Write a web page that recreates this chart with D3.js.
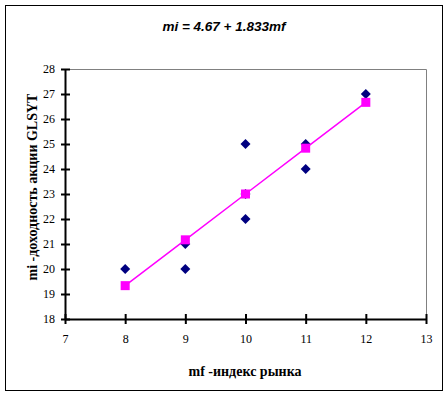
<!DOCTYPE html>
<meta charset="utf-8">
<style>
    body { margin: 0; background: #fff; }
</style>
<body>
    <svg width="448" height="397"></svg>
</body>
<script src="https://cdnjs.cloudflare.com/ajax/libs/d3/7.8.5/d3.min.js"></script>
<script>

    // data: market index mf vs. stock return mi
    var mfValues = [8, 9, 9, 10, 10, 10, 11, 11, 12];
    var miValues = [20, 21, 20, 25, 22, 23, 25, 24, 27];
    var fitX = [8, 9, 10, 11, 12];
    var intercept = 4.67, slope = 1.833;
    var xTicks = [7, 8, 9, 10, 11, 12, 13];
    var yTicks = [18, 19, 20, 21, 22, 23, 24, 25, 26, 27, 28];

    var serif = "'Liberation Serif', 'Times New Roman', serif";

    var svg = d3.select("svg");

    var x = d3.scaleLinear().domain([7, 13]).range([65, 426]);
    var y = d3.scaleLinear().domain([18, 28]).range([319, 69]);

    // outer frame
    svg.append("rect")
        .attr("x", 5.5).attr("y", 5.5)
        .attr("width", 437).attr("height", 385)
        .attr("fill", "white")
        .attr("stroke", "black")
        .attr("stroke-width", 1);

    // plot area border (grey)
    svg.append("path")
        .attr("d", "M" + x(7) + "," + (y(28) + 0.5) + "H" + (x(13) + 0.5) + "V" + y(18))
        .attr("fill", "none")
        .attr("stroke", "#808080")
        .attr("stroke-width", 1);

    // title
    svg.append("text")
        .attr("x", 224).attr("y", 31)
        .attr("text-anchor", "middle")
        .style("font-family", "'Liberation Sans', Arial, sans-serif")
        .style("font-size", "13.5px")
        .style("font-weight", "bold")
        .style("font-style", "italic")
        .text("mi = " + intercept + " + " + slope + "mf");

    // axes with cross ticks
    var xAxis = svg.append("g")
        .attr("transform", "translate(0," + y(18) + ")")
        .call(d3.axisBottom(x).tickValues(xTicks).tickFormat(d3.format("d"))
            .tickSizeInner(5).tickSizeOuter(0).tickPadding(10));
    xAxis.selectAll(".tick line").attr("y1", -5);

    var yAxis = svg.append("g")
        .attr("transform", "translate(" + x(7) + ",0)")
        .call(d3.axisLeft(y).tickValues(yTicks).tickFormat(d3.format("d"))
            .tickSizeInner(4).tickSizeOuter(0).tickPadding(6));
    yAxis.selectAll(".tick line").attr("x1", 5);

    svg.selectAll(".domain").attr("stroke", "black").attr("stroke-width", 2);
    svg.selectAll(".tick line").attr("stroke", "black").attr("stroke-width", 2);
    xAxis.attr("font-family", serif).attr("font-size", 12);
    yAxis.attr("font-family", serif).attr("font-size", 12);
    svg.selectAll(".tick text").attr("fill", "black");

    // axis titles
    svg.append("text")
        .attr("x", 245).attr("y", 376)
        .attr("text-anchor", "middle")
        .style("font-family", serif)
        .style("font-size", "14px")
        .style("font-weight", "bold")
        .text("mf -индекс рынка");

    svg.append("text")
        .attr("transform", "translate(37,187) rotate(-90)")
        .attr("text-anchor", "middle")
        .style("font-family", serif)
        .style("font-size", "14px")
        .style("font-weight", "bold")
        .text("mi -доходность акции GLSYT");

    // observed points (navy diamonds)
    var pts = mfValues.map(function(d, i) { return { mf: d, mi: miValues[i] }; });
    svg.append("g").selectAll("path")
        .data(pts)
        .enter()
        .append("path")
        .attr("d", "M0,-5L5,0L0,5L-5,0Z")
        .attr("transform", function(d) { return "translate(" + x(d.mf) + "," + y(d.mi) + ")"; })
        .attr("fill", "#000080");

    // fitted line and points
    var fit = fitX.map(function(d) { return { mf: d, mi: intercept + slope * d }; });
    svg.append("path")
        .datum(fit)
        .attr("fill", "none")
        .attr("stroke", "#ff00ff")
        .attr("stroke-width", 1.5)
        .attr("d", d3.line().x(function(d) { return x(d.mf); }).y(function(d) { return y(d.mi); }));

    svg.append("g").selectAll("rect")
        .data(fit)
        .enter()
        .append("rect")
        .attr("x", function(d) { return x(d.mf) - 4.5; })
        .attr("y", function(d) { return y(d.mi) - 4.5; })
        .attr("width", 9).attr("height", 9)
        .attr("fill", "#ff00ff");

</script>
